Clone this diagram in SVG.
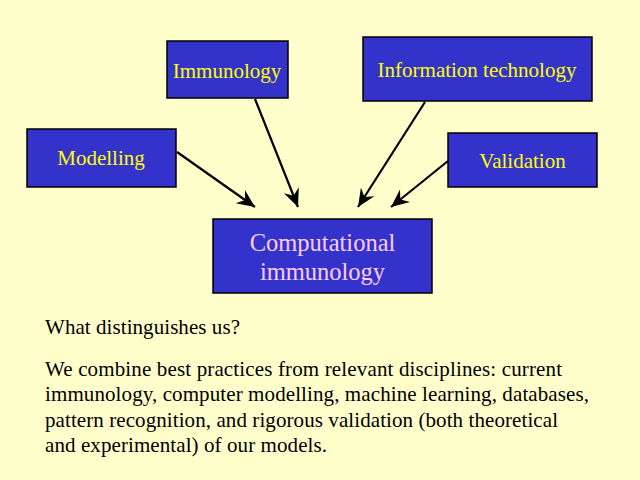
<svg xmlns="http://www.w3.org/2000/svg" width="640" height="480" viewBox="0 0 640 480">
<style>
.box{fill:#3333CC;stroke:#000;stroke-width:1.5}
.lbl{font-family:"Liberation Serif","Times New Roman",serif;font-size:21px;fill:#FFFF00;text-anchor:middle}
.main{font-family:"Liberation Serif","Times New Roman",serif;font-size:24.5px;fill:#FFCCFF;text-anchor:middle}
.body{font-family:"Liberation Serif","Times New Roman",serif;font-size:21px;fill:#000}
.conn{stroke:#000;stroke-width:2.2;fill:none;marker-end:url(#ah)}
</style>
<defs>
<marker id="ah" markerUnits="userSpaceOnUse" viewBox="-19 -9 21 18" refX="0" refY="0" markerWidth="21" markerHeight="18" orient="auto">
<path d="M0,0 L-18,-8 L-12,0 L-18,8 Z" fill="#000"/>
</marker>
</defs>
<rect width="640" height="480" fill="#FFFFCC"/>
<g id="connectors">
<line class="conn" x1="177" y1="152" x2="255" y2="207"/>
<line class="conn" x1="255" y1="99" x2="298" y2="207"/>
<line class="conn" x1="425" y1="102" x2="358" y2="207"/>
<line class="conn" x1="448" y1="161" x2="391" y2="207"/>
</g>
<g id="immunology">
<rect class="box" x="167" y="41" width="121" height="57"/>
<text class="lbl" x="227" y="77.5">Immunology</text>
</g>
<g id="information-technology">
<rect class="box" x="363" y="37" width="229" height="64"/>
<text class="lbl" x="477" y="77">Information technology</text>
</g>
<g id="modelling">
<rect class="box" x="27" y="129" width="149" height="58"/>
<text class="lbl" x="101" y="165">Modelling</text>
</g>
<g id="validation">
<rect class="box" x="448" y="133" width="149" height="54"/>
<text class="lbl" x="522.5" y="167.5">Validation</text>
</g>
<g id="computational-immunology">
<rect class="box" x="213" y="219" width="219" height="74"/>
<text class="main" x="322.5" y="251">Computational</text>
<text class="main" x="322.5" y="280">immunology</text>
</g>
<g id="text">
<text class="body" x="45" y="334" textLength="195" lengthAdjust="spacing">What distinguishes us?</text>
<text class="body" x="45" y="375.5" textLength="517" lengthAdjust="spacing">We combine best practices from relevant disciplines: current</text>
<text class="body" x="45" y="401" textLength="544" lengthAdjust="spacing">immunology, computer modelling, machine learning, databases,</text>
<text class="body" x="45" y="426.5" textLength="513" lengthAdjust="spacing">pattern recognition, and rigorous validation (both theoretical</text>
<text class="body" x="45" y="452" textLength="282" lengthAdjust="spacing">and experimental) of our models.</text>
</g>
</svg>
